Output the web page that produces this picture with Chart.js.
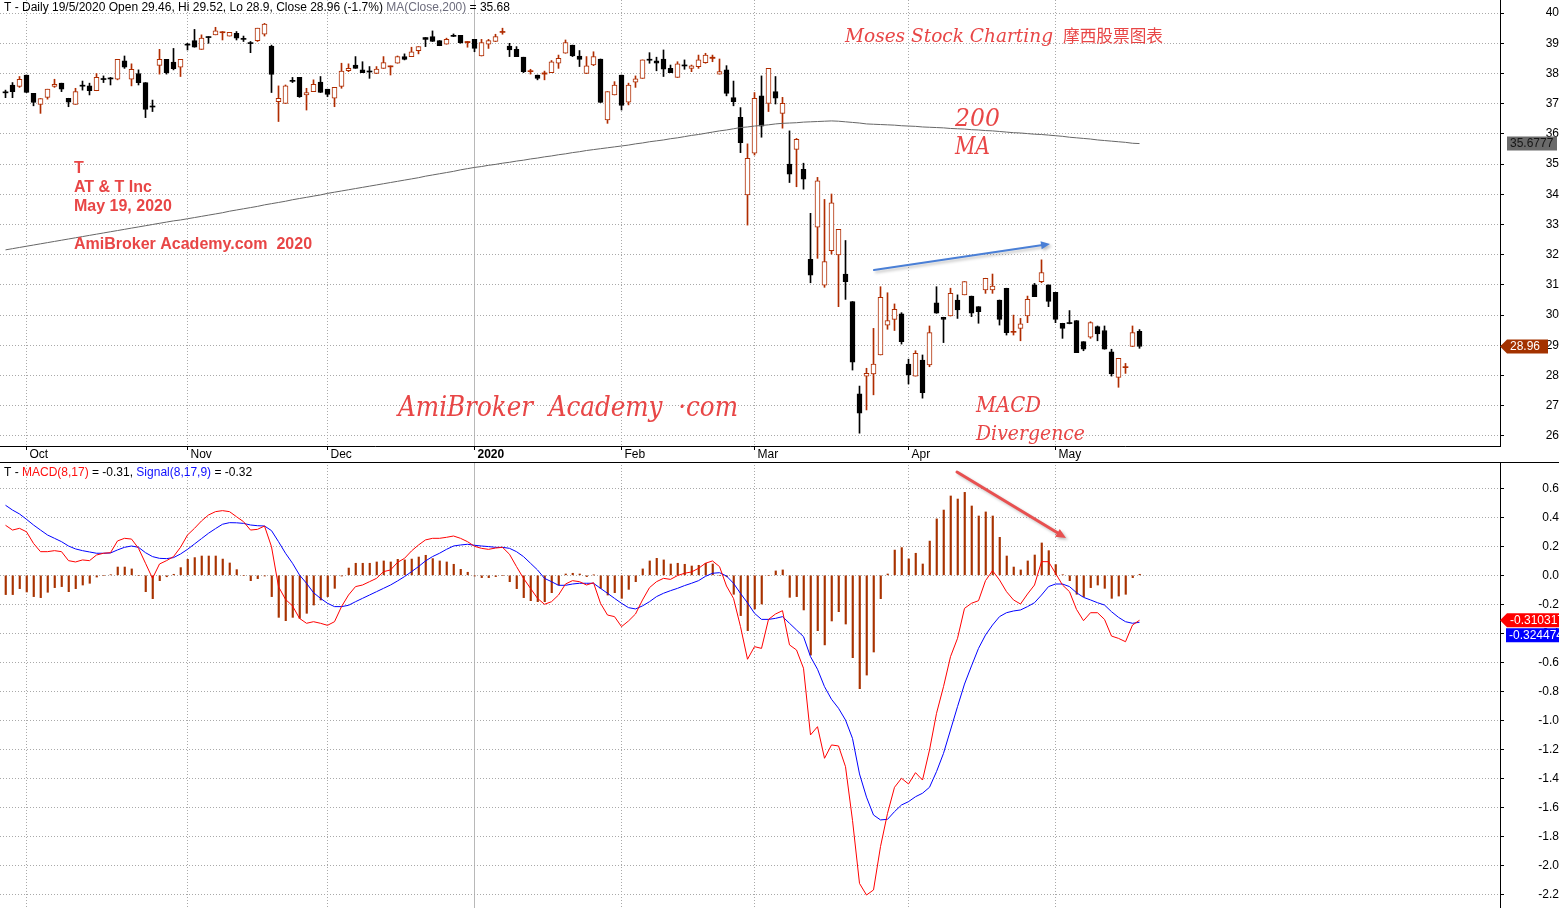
<!DOCTYPE html>
<html>
<head>
<meta charset="utf-8">
<script src="https://cdn.jsdelivr.net/npm/chart.js@4.4.0/dist/chart.umd.min.js"></script>
<style>
  html, body { margin: 0; padding: 0; background: #fff; overflow: hidden; }
  #wrap { position: relative; width: 1559px; height: 908px; }
  #wrap > div { position: absolute; left: 0; width: 1559px; }
  #top { top: 0; height: 462px; }
  #bot { top: 462px; height: 446px; }
</style>
</head>
<body>
<div id="wrap">
  <div id="top"><canvas id="priceChart"></canvas></div>
  <div id="bot"><canvas id="macdChart"></canvas></div>
</div>
<script>
// T daily, 26 Sep 2019 .. 19 May 2020 (one value per trading day)
const monthLabels = ['Oct', 'Nov', 'Dec', '2020', 'Feb', 'Mar', 'Apr', 'May'];
const monthStarts = [3, 26, 46, 67, 88, 107, 129, 150];
const priceTicks = [26, 27, 28, 29, 30, 31, 32, 33, 34, 35, 36, 37, 38, 39, 40];
const macdTicks = [0.6, 0.4, 0.2, 0, -0.2, -0.4, -0.6, -0.8, -1.0, -1.2, -1.4, -1.6, -1.8, -2.0, -2.2];

const opens = [37.37,37.62,37.57,37.95,37.34,36.98,37.21,37.57,37.68,37.18,
  36.98,37.60,37.59,37.43,37.82,37.83,37.81,38.42,37.81,38.00,
  37.70,36.91,38.27,38.47,38.38,38.21,38.96,39.09,38.80,39.21,
  39.28,39.35,39.24,39.33,39.15,39.01,39.09,39.30,38.91,37.07,
  37.01,37.76,37.87,37.29,37.40,37.72,37.48,37.18,37.57,38.09,
  38.28,38.12,38.07,38.00,38.17,38.22,38.34,38.56,38.56,38.76,
  39.19,39.22,39.09,38.97,39.25,39.26,39.02,39.13,38.58,38.97,
  39.06,39.36,38.91,38.80,38.54,38.06,37.95,37.98,38.03,38.34,
  38.67,38.94,38.58,38.00,38.28,38.48,36.46,37.29,37.95,37.05,
  37.71,37.84,38.46,38.42,38.48,38.17,37.87,38.27,38.17,38.23,
  38.36,38.50,37.98,38.12,37.20,36.55,33.98,35.36,37.26,37.01,
  37.40,36.68,35.00,35.49,34.83,31.85,32.91,30.99,32.13,31.99,
  31.36,30.45,27.39,27.98,28.05,28.68,29.67,29.86,30.04,28.38,
  27.98,28.51,28.35,30.41,29.93,29.97,30.50,30.67,30.63,30.28,
  30.83,30.83,30.50,30.89,29.43,29.56,29.97,31.00,31.11,31.00,
  30.75,29.73,29.74,29.82,29.12,29.27,29.62,29.49,28.78,27.94,
  28.26,28.96,29.46];
const highs = [37.45,37.70,37.90,37.95,37.34,37.17,37.48,37.81,37.68,37.18,
  37.51,37.75,37.68,38.00,37.92,37.87,38.47,38.58,38.32,38.12,
  37.70,37.12,38.80,38.47,38.83,38.47,39.00,39.46,39.28,39.22,
  39.53,39.39,39.36,39.39,39.24,39.06,39.50,39.66,38.94,37.59,
  37.62,37.87,37.87,37.51,37.79,37.90,37.48,37.54,38.34,38.32,
  38.56,38.39,38.23,38.23,38.56,38.25,38.58,38.65,38.87,38.89,
  39.19,39.41,39.09,39.17,39.31,39.26,39.06,39.13,39.13,39.13,
  39.30,39.50,39.00,38.89,38.54,38.14,37.95,38.08,38.43,38.61,
  39.11,38.94,38.76,38.56,38.72,38.48,37.40,37.73,37.95,37.68,
  37.92,38.45,38.69,38.54,38.78,38.28,38.39,38.45,38.28,38.61,
  38.67,38.61,38.48,38.26,37.75,36.87,35.67,37.37,37.92,38.17,
  37.90,37.21,36.10,35.85,35.03,33.37,34.56,33.83,34.01,32.84,
  32.47,30.45,27.65,28.24,29.56,30.94,30.74,30.37,30.08,28.54,
  28.82,28.68,29.64,30.94,29.93,30.89,30.67,31.11,30.63,30.28,
  31.22,31.36,30.50,30.89,30.00,29.89,30.63,31.05,31.83,31.00,
  30.75,29.73,30.15,29.82,29.12,29.78,29.64,29.64,28.87,28.57,
  28.40,29.64,29.52];
const lows = [37.20,37.20,37.54,37.37,36.93,36.68,37.15,37.54,37.40,36.90,
  36.98,37.45,37.29,37.43,37.70,37.62,37.79,38.17,37.59,37.62,
  36.54,36.74,37.98,37.98,38.12,37.90,38.78,38.87,38.80,39.00,
  39.28,39.11,39.24,39.11,39.06,38.69,39.06,39.24,37.37,36.41,
  37.01,37.70,37.21,36.79,37.40,37.37,37.23,36.90,37.51,38.06,
  38.17,38.03,37.84,38.00,38.17,37.95,38.34,38.45,38.56,38.65,
  38.89,39.06,38.92,38.97,39.22,39.00,38.87,38.72,38.58,38.83,
  39.06,39.30,38.56,38.56,38.03,37.98,37.79,37.79,38.03,38.17,
  38.67,38.56,38.23,38.00,38.26,37.04,36.35,37.29,36.79,36.96,
  37.54,37.84,38.34,38.09,37.90,38.03,37.87,38.14,38.06,38.17,
  38.34,38.39,37.98,37.26,36.93,35.38,32.98,35.30,35.89,36.74,
  36.99,36.19,34.39,34.25,34.17,31.07,31.88,30.92,32.02,30.28,
  30.52,28.18,26.09,26.86,27.36,28.68,29.53,29.49,29.04,27.72,
  27.98,27.25,28.29,30.06,29.09,29.97,29.89,30.67,29.95,29.73,
  30.72,30.72,29.67,29.34,29.34,29.15,29.75,30.61,31.07,30.28,
  29.75,29.23,29.71,28.76,28.82,29.23,29.15,28.87,27.98,27.61,
  28.07,28.96,28.90];
const closes = [37.36,37.40,37.81,37.37,37.04,37.17,37.48,37.64,37.48,37.05,
  37.40,37.58,37.43,37.87,37.80,37.82,38.47,38.21,38.14,37.70,
  36.81,36.89,38.47,38.03,38.16,38.47,38.94,38.87,39.17,39.19,
  39.41,39.37,39.36,39.17,39.13,38.99,39.50,39.64,37.97,37.18,
  37.59,37.74,37.23,37.37,37.64,37.37,37.31,37.54,38.08,38.17,
  38.17,38.03,38.05,38.15,38.36,38.24,38.56,38.47,38.72,38.89,
  39.13,39.06,38.92,39.13,39.23,39.02,39.06,38.83,39.02,39.09,
  39.22,39.38,38.78,38.56,38.06,38.08,37.84,38.02,38.39,38.50,
  39.02,38.58,38.47,38.25,38.56,37.04,37.40,37.62,36.94,37.62,
  37.82,38.45,38.44,38.34,38.14,38.03,38.32,38.25,38.25,38.45,
  38.61,38.54,38.06,37.34,37.07,35.71,35.19,37.18,36.26,38.17,
  37.18,37.01,34.67,35.82,34.50,31.32,34.45,31.77,33.72,32.84,
  31.11,28.44,26.75,28.07,28.38,30.59,29.82,30.19,29.12,28.02,
  28.73,27.43,29.42,30.06,29.86,30.72,30.17,31.11,30.06,30.11,
  31.22,30.96,29.86,29.42,29.46,29.71,30.52,30.61,31.41,30.45,
  29.86,29.56,29.72,28.76,28.87,29.75,29.38,28.87,28.05,28.57,
  28.28,29.42,28.96];
const ma200 = [32.16,32.20,32.24,32.28,32.32,32.36,32.40,32.44,32.48,32.52,
  32.56,32.60,32.64,32.68,32.72,32.76,32.80,32.84,32.88,32.92,
  32.96,33.00,33.04,33.08,33.12,33.15,33.19,33.23,33.27,33.31,
  33.35,33.39,33.44,33.48,33.52,33.56,33.60,33.65,33.69,33.73,
  33.77,33.82,33.86,33.90,33.94,33.98,34.03,34.07,34.11,34.15,
  34.19,34.23,34.27,34.31,34.35,34.39,34.43,34.47,34.51,34.55,
  34.60,34.64,34.68,34.72,34.76,34.81,34.85,34.89,34.92,34.96,
  34.99,35.03,35.06,35.10,35.13,35.17,35.20,35.24,35.27,35.31,
  35.34,35.38,35.41,35.45,35.48,35.51,35.54,35.57,35.60,35.63,
  35.67,35.70,35.74,35.77,35.80,35.84,35.87,35.91,35.95,35.98,
  36.02,36.06,36.10,36.13,36.17,36.21,36.23,36.26,36.28,36.30,
  36.33,36.35,36.36,36.37,36.39,36.40,36.41,36.42,36.43,36.42,
  36.40,36.38,36.36,36.33,36.32,36.31,36.30,36.29,36.27,36.26,
  36.25,36.23,36.22,36.21,36.20,36.18,36.17,36.16,36.14,36.13,
  36.11,36.10,36.08,36.06,36.04,36.03,36.01,35.99,35.98,35.96,
  35.94,35.92,35.89,35.87,35.85,35.83,35.80,35.78,35.76,35.74,
  35.72,35.69,35.68];

const macdLine = [0.345,0.312,0.324,0.300,0.220,0.163,0.163,0.170,0.163,0.101,
  0.092,0.106,0.101,0.140,0.152,0.156,0.237,0.255,0.250,0.186,
  0.083,-0.021,0.078,0.101,0.129,0.193,0.278,0.324,0.375,0.416,
  0.439,0.446,0.439,0.404,0.370,0.312,0.317,0.340,0.197,-0.078,
  -0.166,-0.211,-0.297,-0.331,-0.320,-0.331,-0.345,-0.320,-0.216,-0.136,
  -0.078,-0.067,-0.044,-0.021,0.025,0.037,0.089,0.117,0.168,0.209,
  0.244,0.255,0.255,0.262,0.271,0.255,0.232,0.200,0.186,0.179,
  0.188,0.193,0.145,0.060,-0.021,-0.090,-0.159,-0.200,-0.182,-0.136,
  -0.060,-0.037,-0.044,-0.067,-0.051,-0.193,-0.274,-0.285,-0.354,-0.315,
  -0.267,-0.170,-0.085,-0.044,-0.021,-0.028,-0.002,0.014,0.023,0.048,
  0.083,0.099,0.060,-0.074,-0.159,-0.354,-0.579,-0.492,-0.504,-0.304,
  -0.267,-0.244,-0.480,-0.515,-0.641,-1.101,-1.044,-1.262,-1.170,-1.177,
  -1.320,-1.690,-2.125,-2.205,-2.170,-1.871,-1.642,-1.462,-1.400,-1.439,
  -1.361,-1.412,-1.205,-0.952,-0.768,-0.561,-0.435,-0.228,-0.193,-0.175,
  -0.037,0.032,-0.032,-0.113,-0.170,-0.198,-0.129,-0.067,0.094,0.094,
  0.014,-0.067,-0.113,-0.235,-0.313,-0.258,-0.258,-0.304,-0.419,-0.435,
  -0.458,-0.343,-0.310];
const signalLine = [0.483,0.450,0.423,0.386,0.347,0.312,0.278,0.255,0.232,0.202,
  0.182,0.170,0.161,0.152,0.152,0.154,0.175,0.193,0.202,0.193,
  0.156,0.129,0.117,0.115,0.122,0.147,0.179,0.216,0.253,0.290,
  0.322,0.352,0.363,0.362,0.358,0.347,0.342,0.340,0.308,0.232,
  0.152,0.083,0.002,-0.055,-0.120,-0.159,-0.193,-0.216,-0.216,-0.207,
  -0.182,-0.159,-0.136,-0.113,-0.090,-0.067,-0.039,-0.009,0.025,0.060,
  0.099,0.129,0.152,0.179,0.202,0.209,0.214,0.207,0.202,0.198,
  0.193,0.193,0.186,0.163,0.129,0.083,0.037,-0.021,-0.044,-0.069,
  -0.069,-0.060,-0.055,-0.055,-0.055,-0.090,-0.124,-0.159,-0.193,-0.223,
  -0.232,-0.211,-0.182,-0.147,-0.124,-0.106,-0.090,-0.071,-0.055,-0.037,
  -0.007,0.014,0.018,-0.005,-0.055,-0.125,-0.190,-0.262,-0.304,-0.304,
  -0.297,-0.285,-0.331,-0.377,-0.423,-0.561,-0.648,-0.768,-0.855,-0.917,
  -0.998,-1.125,-1.370,-1.530,-1.653,-1.687,-1.683,-1.630,-1.584,-1.561,
  -1.527,-1.503,-1.462,-1.354,-1.228,-1.067,-0.906,-0.750,-0.625,-0.504,
  -0.412,-0.343,-0.285,-0.258,-0.246,-0.239,-0.216,-0.189,-0.136,-0.078,
  -0.060,-0.060,-0.078,-0.120,-0.152,-0.170,-0.189,-0.205,-0.251,-0.290,
  -0.320,-0.331,-0.324];
const macdHist = [-0.133,-0.133,-0.092,-0.115,-0.147,-0.154,-0.117,-0.085,-0.078,-0.113,
  -0.092,-0.067,-0.055,-0.012,0.000,0.004,0.057,0.057,0.044,0.000,
  -0.113,-0.161,-0.037,-0.010,0.007,0.053,0.110,0.122,0.133,0.133,
  0.133,0.112,0.085,0.039,0.000,-0.037,-0.023,-0.005,-0.147,-0.290,
  -0.313,-0.290,-0.297,-0.262,-0.205,-0.170,-0.147,-0.090,-0.005,0.050,
  0.083,0.083,0.083,0.092,0.099,0.092,0.110,0.106,0.112,0.126,
  0.138,0.115,0.099,0.092,0.076,0.041,0.021,-0.005,-0.016,-0.016,
  -0.009,0.000,-0.044,-0.092,-0.154,-0.175,-0.182,-0.182,-0.120,-0.067,
  0.009,0.014,0.009,-0.009,0.002,-0.090,-0.136,-0.120,-0.159,-0.097,
  -0.044,0.044,0.099,0.117,0.106,0.078,0.083,0.076,0.064,0.069,
  0.083,0.078,0.000,-0.010,-0.131,-0.278,-0.382,-0.232,-0.198,0.000,
  0.030,0.037,-0.152,-0.147,-0.239,-0.550,-0.382,-0.480,-0.315,-0.251,
  -0.336,-0.568,-0.782,-0.688,-0.529,-0.161,0.009,0.174,0.191,0.113,
  0.152,0.078,0.236,0.389,0.450,0.547,0.526,0.572,0.478,0.409,
  0.437,0.409,0.262,0.133,0.057,0.037,0.099,0.140,0.223,0.170,
  0.074,0.004,-0.037,-0.131,-0.147,-0.085,-0.067,-0.090,-0.159,-0.143,
  -0.131,-0.016,0.007];

const FONT = '"Liberation Sans", Arial, sans-serif';
const SCRIPT = '"DejaVu Serif", serif';
const UP = '#b02c00';
const NOTE = '#e84646';
const GRID = '#a9a9a9';
const yearIdx = monthStarts[monthLabels.indexOf('2020')];
const last = closes.length - 1;
const idx = closes.map((_, i) => i);

Chart.defaults.font.family = FONT;
Chart.defaults.font.size = 12;
Chart.defaults.color = '#000';

// 7px per bar, bar 0 at x = 5.5, plot area 1500px wide
const xMin = -5.5 / 7;
const xMax = xMin + 1500 / 7;
const histShift = 0.25 / 7; // lines the thin histogram bars up with the pixel grid

function xAxis(withLabels) {
  return {
    type: 'linear', min: xMin, max: xMax, offset: false,
    afterBuildTicks: s => { s.ticks = monthStarts.map(v => ({ value: v })); },
    afterFit: s => { s.height = withLabels ? 16 : 0; s.paddingLeft = 0; s.paddingRight = 0; },
    grid: {
      offset: false, drawTicks: withLabels, tickLength: 4, tickColor: '#000',
      color: c => (c.tick && c.tick.value === yearIdx) ? '#b8b8b8' : GRID,
    },
    border: {
      display: withLabels, color: '#000',
      dash: c => (c.tick && c.tick.value === yearIdx) ? [] : [1, 2],
    },
    ticks: {
      display: withLabels, autoSkip: false, maxRotation: 0, align: 'start',
      labelOffset: 3, padding: -3, color: '#000',
      font: c => ({ family: FONT, size: 12, weight: (c.tick && c.tick.value === yearIdx) ? 'bold' : 'normal' }),
      callback: v => monthLabels[monthStarts.indexOf(v)] || '',
    },
  };
}

function yAxis(min, max, ticks, pad, fmt) {
  return {
    position: 'right', min: min, max: max,
    afterBuildTicks: s => { s.ticks = ticks.map(v => ({ value: v })); },
    afterFit: s => { s.width = 59; s.paddingTop = 0; s.paddingBottom = 0; },
    grid: { color: GRID, tickLength: 4, tickColor: '#000' },
    border: { color: '#000', dash: [1, 2] },
    ticks: { crossAlign: 'far', padding: pad, color: '#000', font: { family: FONT, size: 12 }, callback: fmt },
  };
}

function textRuns(ctx, x, y, parts) {
  ctx.save();
  ctx.font = '12px ' + FONT;
  ctx.textBaseline = 'middle';
  for (const [t, c] of parts) {
    ctx.fillStyle = c;
    ctx.fillText(t, x, y);
    x += ctx.measureText(t).width;
  }
  ctx.restore();
}

function fitText(ctx, text, x, y, w, font, color) {
  ctx.save();
  ctx.font = font;
  ctx.fillStyle = color;
  ctx.textBaseline = 'middle';
  const m = ctx.measureText(text).width;
  ctx.translate(x, y);
  ctx.scale(w / m, 1);
  ctx.fillText(text, 0, 0);
  ctx.restore();
}

function arrow(ctx, x1, y1, x2, y2, color, w, head) {
  ctx.save();
  ctx.strokeStyle = color; ctx.fillStyle = color; ctx.lineWidth = w; ctx.lineCap = 'round';
  ctx.shadowColor = 'rgba(0,0,0,0.25)'; ctx.shadowBlur = 3; ctx.shadowOffsetX = 2; ctx.shadowOffsetY = 2;
  const a = Math.atan2(y2 - y1, x2 - x1);
  const bx = x2 - head * Math.cos(a), by = y2 - head * Math.sin(a);
  ctx.beginPath(); ctx.moveTo(x1, y1); ctx.lineTo(bx, by); ctx.stroke();
  ctx.beginPath();
  ctx.moveTo(x2, y2);
  ctx.lineTo(bx - head * 0.45 * Math.sin(a), by + head * 0.45 * Math.cos(a));
  ctx.lineTo(bx + head * 0.45 * Math.sin(a), by - head * 0.45 * Math.cos(a));
  ctx.closePath(); ctx.fill();
  ctx.restore();
}

function tag(ctx, y, text, bg, fg, pointed, x0, x1) {
  ctx.save();
  ctx.fillStyle = bg;
  ctx.beginPath();
  if (pointed) {
    ctx.moveTo(1500, y); ctx.lineTo(x0, y - 7); ctx.lineTo(x1, y - 7); ctx.lineTo(x1, y + 7); ctx.lineTo(x0, y + 7);
  } else {
    ctx.rect(x0, y - 7, x1 - x0, 14);
  }
  ctx.closePath(); ctx.fill();
  ctx.fillStyle = fg;
  ctx.font = '12px ' + FONT;
  ctx.textBaseline = 'middle';
  ctx.fillText(text, x0 + 3, y + 0.5);
  ctx.restore();
}

const isUp = i => closes[i] >= opens[i];
const isFlat = i => Math.abs(closes[i] - opens[i]) < 0.06;
const stroke = i => isUp(i) ? UP : '#000';

const priceNotes = {
  id: 'priceNotes',
  afterDraw(chart) {
    const ctx = chart.ctx;
    const y = chart.scales.y;
    textRuns(ctx, 4, 8, [
      ['T - Daily 19/5/2020 Open 29.46, Hi 29.52, Lo 28.9, Close 28.96 (-1.7%) ', '#000'],
      ['MA(Close,200)', '#6c6c7c'], [' = 35.68', '#000']]);
    ctx.save();
    ctx.font = 'bold 16px ' + FONT;
    ctx.fillStyle = NOTE;
    ctx.textBaseline = 'middle';
    ctx.fillText('T', 74, 169);
    ctx.fillText('AT & T Inc', 74, 188);
    ctx.fillText('May 19, 2020', 74, 207);
    ctx.fillText('AmiBroker Academy.com  2020', 74, 245);
    ctx.restore();
    fitText(ctx, 'Moses Stock Charting', 845, 37, 208, 'italic 19px ' + SCRIPT, NOTE);
    fitText(ctx, '摩西股票图表', 1063, 36, 100, '17px "Noto Sans CJK SC"', NOTE);
    fitText(ctx, '200', 955, 120, 45, 'italic 24px ' + SCRIPT, NOTE);
    fitText(ctx, 'MA', 955, 148, 35, 'italic 24px ' + SCRIPT, NOTE);
    fitText(ctx, 'AmiBroker  Academy  \u00b7com', 398, 409, 340, 'italic 28px ' + SCRIPT, NOTE);
    fitText(ctx, 'MACD', 976, 406, 65, 'italic 22px ' + SCRIPT, NOTE);
    fitText(ctx, 'Divergence', 976, 435, 109, 'italic 20px ' + SCRIPT, NOTE);
    arrow(ctx, 874, 270, 1050, 244, '#4a7fd6', 2, 9);
    tag(ctx, y.getPixelForValue(ma200[last]), '35.6777', '#6a6a6a', '#161616', false, 1507, 1557);
    tag(ctx, y.getPixelForValue(closes[last]), closes[last].toFixed(2), '#a33200', '#fff', true, 1507, 1548);
  },
};

const macdNotes = {
  id: 'macdNotes',
  afterDraw(chart) {
    const ctx = chart.ctx;
    const y = chart.scales.y;
    ctx.save();
    ctx.fillStyle = '#000';
    ctx.fillRect(0, 0, 1559, 1);
    ctx.restore();
    textRuns(ctx, 4, 11, [['T - ', '#000'], ['MACD(8,17)', '#ff1010'], [' = -0.31, ', '#000'],
      ['Signal(8,17,9)', '#1010ff'], [' = -0.32', '#000']]);
    arrow(ctx, 957, 10, 1066, 76, '#e85050', 3, 10);
    const ym = y.getPixelForValue(macdLine[last]);
    tag(ctx, ym, '-0.310317', '#ff0000', '#fff', true, 1507, 1562);
    tag(ctx, Math.max(ym + 15, y.getPixelForValue(signalLine[last])), '-0.324474', '#0000ff', '#fff', false, 1506, 1562);
  },
};

const common = {
  responsive: true, maintainAspectRatio: false, animation: false, events: [],
  layout: { padding: 0 },
  plugins: { legend: { display: false }, tooltip: { enabled: false } },
};

new Chart(document.getElementById('priceChart'), {
  type: 'bar',
  data: {
    datasets: [
      { type: 'line', data: idx.map(i => ({ x: i, y: ma200[i] })), borderColor: '#666666', borderWidth: 1,
        pointRadius: 0, tension: 0, order: 0 },
      { type: 'bar', data: idx.map(i => ({ x: i, y: [opens[i], closes[i]] })), barThickness: 5, grouped: false,
        minBarLength: 1, borderSkipped: false,
        borderWidth: c => isFlat(c.dataIndex) ? 0 : 1,
        borderColor: c => stroke(c.dataIndex),
        backgroundColor: c => isFlat(c.dataIndex) ? stroke(c.dataIndex) : (isUp(c.dataIndex) ? '#fff' : '#000'),
        order: 1 },
      { type: 'bar', data: idx.map(i => ({ x: i, y: [lows[i], highs[i]] })), barThickness: 1, grouped: false,
        borderWidth: 0, backgroundColor: c => stroke(c.dataIndex), order: 2 },
    ],
  },
  options: Object.assign({}, common, {
    scales: {
      x: xAxis(true),
      y: yAxis(39 - 402.7 / 30.2, 39 + 43.3 / 30.2, priceTicks, 38.5, v => String(v)),
    },
  }),
  plugins: [priceNotes],
});

new Chart(document.getElementById('macdChart'), {
  type: 'bar',
  data: {
    datasets: [
      { type: 'line', data: idx.map(i => ({ x: i, y: macdLine[i] })), borderColor: '#ff0000', borderWidth: 1,
        pointRadius: 0, tension: 0, order: 0 },
      { type: 'line', data: idx.map(i => ({ x: i, y: signalLine[i] })), borderColor: '#0000ff', borderWidth: 1,
        pointRadius: 0, tension: 0, order: 1 },
      { type: 'bar', data: idx.map(i => ({ x: i + histShift, y: macdHist[i] })), barThickness: 1.5, grouped: false,
        borderWidth: 0, backgroundColor: '#a83200', order: 2 },
    ],
  },
  options: Object.assign({}, common, {
    scales: {
      x: xAxis(false),
      y: yAxis(-332.7 / 145, 113.3 / 145, macdTicks, 31, v => v.toFixed(1)),
    },
  }),
  plugins: [macdNotes],
});
</script>
</body>
</html>
